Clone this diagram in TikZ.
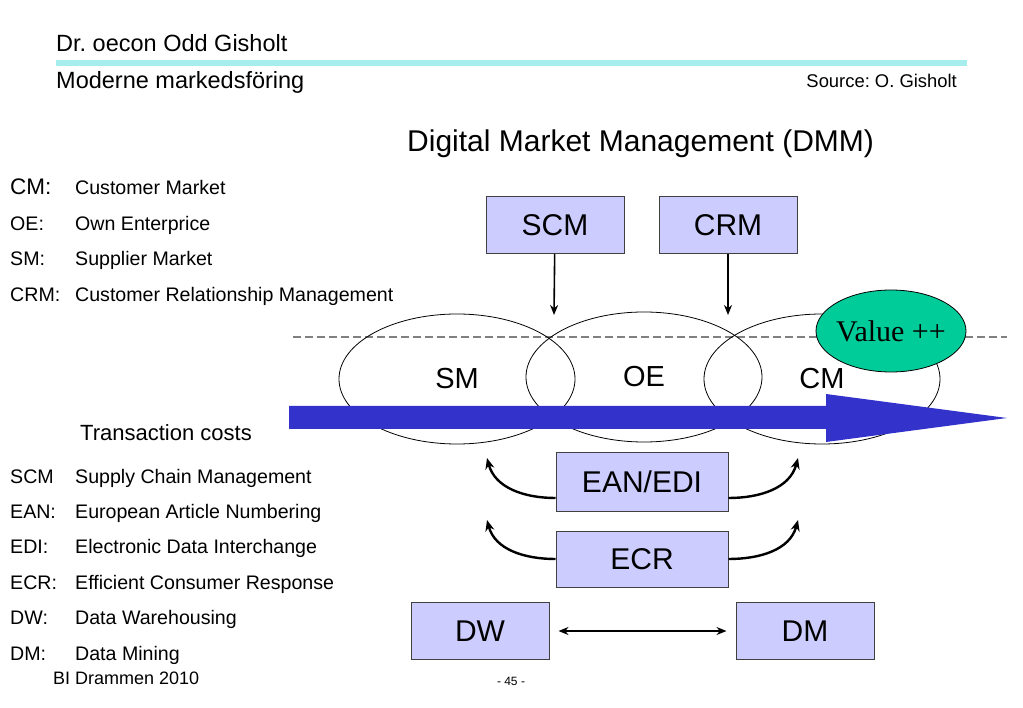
\documentclass[tikz,border=0pt]{standalone}
\usepackage{fontspec}
\setmainfont{Liberation Sans}
\newfontfamily\valuefont{Liberation Serif}
\usetikzlibrary{shapes.geometric,arrows.meta}
\definecolor{boxfill}{RGB}{204,204,255}
\definecolor{flowblue}{RGB}{51,51,204}
\definecolor{valuegreen}{RGB}{0,204,153}
\definecolor{headcyan}{RGB}{166,238,238}
\newcommand{\fs}[1]{\fontsize{#1}{#1}\selectfont}
\frenchspacing

\begin{document}
\begin{tikzpicture}[x=1pt, y=-1pt,
    txt/.style = {inner sep=0pt, anchor=base west},
    box/.style = {draw=black!75, line width=1pt, fill=boxfill, minimum width=138pt,
                  minimum height=57pt, font=\fs{30}},
    market/.style = {ellipse, draw, line width=0.8pt, minimum width=236pt,
                     minimum height=130pt, inner sep=0pt, font=\fs{29}},
    arr/.style = {-{Stealth[length=10pt,width=8pt]}, line width=1.6pt},
    bendarr/.style = {-{Stealth[length=11pt,width=9pt]}, line width=2.4pt}]
    \useasboundingbox (0,0) rectangle (1023,708);

    % header
    \node[txt, font=\fs{23.5}] (author) at (56,52) {Dr. oecon Odd Gisholt};
    \draw[headcyan, line width=6pt] (56,63) -- (967,63);
    \node[txt, font=\fs{23.5}] (course) at (56,89) {Moderne markedsföring};
    \node[txt, anchor=base east, font=\fs{18.4}] (source) at (957,88) {Source: O. Gisholt};
    \node[txt, font=\fs{30}] (title) at (407,152) {Digital Market Management (DMM)};

    % legend
    \foreach \abbr/\full [count=\i] in {CM:/Customer Market, OE:/Own Enterprice,
        SM:/Supplier Market, CRM:/Customer Relationship Management}
        \node[txt, font=\fs{19.6}] (full\i) at (75,195+35.4*\i-35.4) {\full};
    \foreach \abbr [count=\i] in {OE:, SM:, CRM:}
        \node[txt, font=\fs{19.6}] (abbr\i) at (10,230.4+35.4*\i-35.4) {\abbr};
    \node[txt, font=\fs{22.5}] (abbrcm) at (10,195) {CM:};
    \node[txt, font=\fs{22}] (tcost) at (80,440) {Transaction costs};
    \foreach \abbr/\full [count=\i] in {SCM/Supply Chain Management, EAN:/European Article Numbering,
        EDI:/Electronic Data Interchange, ECR:/Efficient Consumer Response,
        DW:/Data Warehousing, DM:/Data Mining}
        {\node[txt, font=\fs{19.6}] (labbr\i) at (10,483+35.4*\i-35.4) {\abbr};
         \node[txt, font=\fs{19.6}] (lfull\i) at (75,483+35.4*\i-35.4) {\full};}
    \node[txt, font=\fs{18}] (school) at (53,684) {BI Drammen 2010};
    \node[anchor=base, inner sep=0pt, font=\fs{12}] (page) at (511,685) {- 45 -};

    % markets
    \draw[gray, line width=1.2pt, dash pattern=on 8pt off 4pt] (293,337) -- (1007,337);
    \node[market] (sm) at (457,379) {SM};
    \node[market] (oe) at (644,377) {OE};
    \node[market] (cm) at (822,379) {CM};
    \node[ellipse, draw, line width=0.8pt, fill=valuegreen, minimum width=150pt, minimum height=82pt,
          inner sep=0pt, font=\valuefont\fs{30}] (value) at (891,331) {\makebox[0pt]{Value ++}};

    % transaction flow
    \fill[flowblue] (289,406) -- (826,406) -- (826,394) -- (1007,418)
        -- (826,442) -- (826,429) -- (289,429) -- cycle;

    % systems
    \node[box] (scm) at (555,225) {SCM};
    \node[box] (crm) at (728,225) {CRM};
    \node[box, minimum width=172pt, minimum height=58pt] (ean) at (642,482) {EAN/EDI};
    \node[box, minimum width=172pt, minimum height=56pt] (ecr) at (642,559) {ECR};
    \node[box] (dw) at (480,631) {DW};
    \node[box] (dm) at (805,631) {DM};

    \coordinate (scm end) at (554,315);
    \coordinate (crm end) at (728,315);
    \draw[arr] (scm) -- (scm end);
    \draw[arr] (crm) -- (crm end);

    \coordinate (ean left) at (487,458);
    \coordinate (ean right) at (798,458);
    \coordinate (ecr left) at (487,520);
    \coordinate (ecr right) at (798,520);
    \draw[bendarr] ([yshift=-16pt]ean.west) to[out=180,in=-75] (ean left);
    \draw[bendarr] ([yshift=-16pt]ean.east) to[out=0,in=-105] (ean right);
    \draw[bendarr] (ecr.west) to[out=180,in=-75] (ecr left);
    \draw[bendarr] (ecr.east) to[out=0,in=-105] (ecr right);

    \draw[arr, {Stealth[length=10pt,width=8pt]}-{Stealth[length=10pt,width=8pt]}, shorten <=9pt, shorten >=9pt]
        (dw.east) -- (dw.east -| dm.west);
\end{tikzpicture}
\end{document}
